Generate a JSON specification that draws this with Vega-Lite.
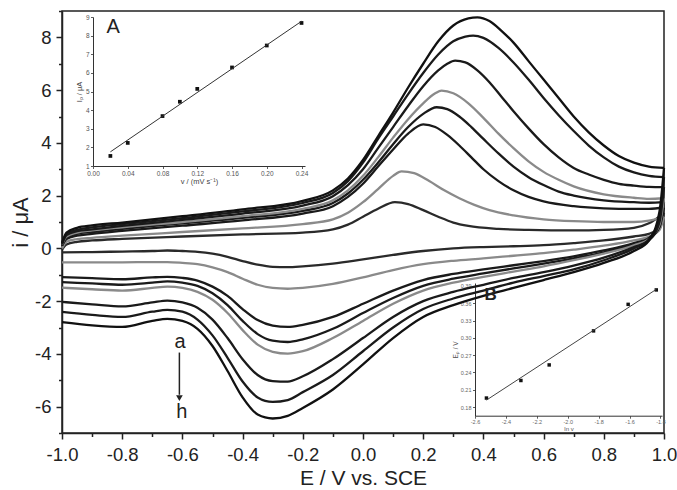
{
  "$schema": "https://vega.github.io/schema/vega-lite/v6.json",
  "width": 602,
  "height": 422,
  "autosize": {"type": "none"},
  "padding": {"left": 62, "top": 11, "right": 13, "bottom": 57},
  "background": "white",
  "config": {
    "view": {"stroke": "#222", "strokeWidth": 1.5},
    "font": "Liberation Sans",
    "axis": {"grid": false}
  },
  "datasets": {
    "cv": [
      {"c": "a", "b": "u", "E": [-1,-0.985,-0.95,-0.9,-0.8,-0.6,-0.4,-0.2,-0.1,-0.05,0,0.05,0.106,0.15,0.2,0.25,0.3,0.35,0.45,0.55,0.7,0.8,0.9,0.95,1], "i": [-0.05,0.15,0.25,0.3,0.36,0.45,0.53,0.6,0.72,0.9,1.2,1.5,1.75,1.68,1.45,1.2,0.98,0.85,0.74,0.7,0.68,0.7,0.78,0.95,1.35]},
      {"c": "a", "b": "d", "E": [1,0.985,0.95,0.9,0.8,0.7,0.6,0.5,0.4,0.3,0.2,0.1,0,-0.1,-0.2,-0.25,-0.3,-0.35,-0.4,-0.45,-0.5,-0.55,-0.6,-0.65,-0.7,-0.8,-0.9,-1], "i": [1.35,0.75,0.55,0.45,0.3,0.2,0.12,0.08,0.05,0.0,-0.1,-0.25,-0.42,-0.58,-0.68,-0.71,-0.7,-0.62,-0.48,-0.32,-0.2,-0.13,-0.1,-0.08,-0.1,-0.12,-0.14,-0.15]},
      {"c": "b", "b": "u", "E": [-1,-0.985,-0.95,-0.9,-0.8,-0.6,-0.4,-0.2,-0.1,-0.05,0,0.05,0.1,0.128,0.17,0.22,0.27,0.32,0.37,0.42,0.5,0.6,0.7,0.8,0.9,0.95,1], "i": [0.0,0.25,0.35,0.4,0.48,0.62,0.76,0.92,1.1,1.35,1.75,2.25,2.75,2.92,2.85,2.55,2.2,1.9,1.65,1.45,1.25,1.1,1.03,1.0,1.0,1.05,1.2]},
      {"c": "b", "b": "d", "E": [1,0.985,0.95,0.9,0.8,0.7,0.6,0.5,0.4,0.3,0.2,0.1,0,-0.1,-0.2,-0.25,-0.3,-0.35,-0.4,-0.45,-0.5,-0.55,-0.6,-0.65,-0.7,-0.8,-0.9,-1], "i": [1.2,0.7,0.45,0.3,0.1,-0.05,-0.18,-0.28,-0.38,-0.47,-0.6,-0.82,-1.1,-1.35,-1.5,-1.53,-1.5,-1.38,-1.15,-0.9,-0.72,-0.6,-0.55,-0.52,-0.52,-0.53,-0.53,-0.53]},
      {"c": "c", "b": "u", "E": [-1,-0.985,-0.95,-0.9,-0.8,-0.6,-0.4,-0.2,-0.1,-0.05,0,0.05,0.1,0.15,0.2,0.24,0.28,0.32,0.36,0.4,0.45,0.5,0.55,0.6,0.7,0.8,0.9,0.95,1], "i": [0.1,0.35,0.48,0.55,0.66,0.86,1.06,1.32,1.6,1.95,2.45,3.1,3.75,4.35,4.7,4.6,4.3,3.9,3.45,3.0,2.55,2.2,1.95,1.78,1.6,1.52,1.5,1.5,1.55]},
      {"c": "c", "b": "d", "E": [1,0.985,0.95,0.9,0.8,0.7,0.6,0.5,0.4,0.3,0.2,0.1,0,-0.1,-0.2,-0.25,-0.3,-0.35,-0.4,-0.45,-0.5,-0.55,-0.6,-0.65,-0.7,-0.8,-0.9,-1], "i": [1.55,0.8,0.4,0.2,-0.08,-0.3,-0.48,-0.64,-0.8,-0.97,-1.2,-1.6,-2.1,-2.6,-2.9,-2.98,-2.93,-2.72,-2.3,-1.8,-1.45,-1.22,-1.12,-1.08,-1.1,-1.17,-1.13,-1.09]},
      {"c": "d", "b": "u", "E": [-1,-0.985,-0.95,-0.9,-0.8,-0.6,-0.4,-0.2,-0.1,-0.05,0,0.05,0.1,0.15,0.2,0.245,0.28,0.32,0.36,0.4,0.45,0.5,0.55,0.6,0.65,0.7,0.8,0.9,0.95,1], "i": [0.1,0.4,0.55,0.62,0.74,0.95,1.16,1.42,1.72,2.08,2.6,3.25,3.95,4.6,5.1,5.35,5.28,5.0,4.6,4.15,3.6,3.1,2.7,2.4,2.15,2.0,1.82,1.75,1.73,1.75]},
      {"c": "d", "b": "d", "E": [1,0.985,0.95,0.9,0.8,0.7,0.6,0.5,0.4,0.3,0.2,0.1,0,-0.1,-0.2,-0.25,-0.3,-0.35,-0.4,-0.45,-0.5,-0.55,-0.6,-0.65,-0.7,-0.8,-0.9,-1], "i": [1.75,0.85,0.35,0.15,-0.15,-0.38,-0.58,-0.76,-0.95,-1.15,-1.42,-1.88,-2.45,-3.05,-3.45,-3.55,-3.5,-3.25,-2.75,-2.15,-1.7,-1.42,-1.3,-1.25,-1.3,-1.38,-1.33,-1.28]},
      {"c": "e", "b": "u", "E": [-1,-0.985,-0.95,-0.9,-0.8,-0.6,-0.4,-0.2,-0.1,-0.05,0,0.05,0.1,0.15,0.2,0.24,0.261,0.3,0.35,0.4,0.45,0.5,0.55,0.6,0.65,0.7,0.8,0.9,0.95,1], "i": [0.15,0.45,0.6,0.68,0.8,1.0,1.22,1.5,1.82,2.2,2.75,3.45,4.2,4.9,5.5,5.88,5.98,5.88,5.5,4.95,4.35,3.8,3.3,2.9,2.6,2.35,2.05,1.92,1.88,1.9]},
      {"c": "e", "b": "d", "E": [1,0.985,0.95,0.9,0.8,0.7,0.6,0.5,0.4,0.3,0.2,0.1,0,-0.1,-0.2,-0.25,-0.3,-0.35,-0.4,-0.45,-0.5,-0.55,-0.6,-0.65,-0.7,-0.8,-0.9,-1], "i": [1.9,0.9,0.35,0.12,-0.2,-0.45,-0.68,-0.88,-1.08,-1.3,-1.6,-2.1,-2.75,-3.4,-3.9,-3.99,-3.92,-3.65,-3.1,-2.45,-1.95,-1.65,-1.5,-1.45,-1.5,-1.6,-1.55,-1.49]},
      {"c": "f", "b": "u", "E": [-1,-0.985,-0.95,-0.9,-0.8,-0.6,-0.4,-0.2,-0.1,-0.05,0,0.05,0.1,0.15,0.2,0.25,0.28,0.306,0.34,0.38,0.42,0.46,0.5,0.55,0.6,0.65,0.7,0.75,0.8,0.85,0.9,0.95,1], "i": [0.15,0.5,0.65,0.72,0.85,1.08,1.32,1.62,1.98,2.4,3.0,3.8,4.6,5.4,6.15,6.75,7.0,7.12,7.05,6.75,6.3,5.75,5.2,4.55,3.95,3.45,3.05,2.8,2.6,2.45,2.38,2.33,2.32]},
      {"c": "f", "b": "d", "E": [1,0.985,0.95,0.9,0.8,0.7,0.6,0.5,0.4,0.3,0.2,0.1,0,-0.1,-0.2,-0.25,-0.3,-0.35,-0.4,-0.45,-0.5,-0.55,-0.6,-0.65,-0.7,-0.8,-0.9,-1], "i": [2.32,1.0,0.3,0.05,-0.35,-0.65,-0.9,-1.12,-1.38,-1.65,-2.0,-2.6,-3.4,-4.2,-4.85,-5.05,-5.03,-4.8,-4.2,-3.4,-2.7,-2.25,-2.05,-1.98,-2.05,-2.2,-2.12,-2.03]},
      {"c": "g", "b": "u", "E": [-1,-0.985,-0.95,-0.9,-0.8,-0.6,-0.4,-0.2,-0.1,-0.05,0,0.05,0.1,0.15,0.2,0.25,0.3,0.34,0.366,0.4,0.45,0.5,0.55,0.6,0.65,0.7,0.75,0.8,0.85,0.9,0.95,1], "i": [0.2,0.55,0.7,0.8,0.92,1.15,1.4,1.72,2.1,2.55,3.25,4.15,5.0,5.85,6.65,7.35,7.85,8.03,8.07,7.98,7.6,7.05,6.4,5.7,5.05,4.45,3.9,3.45,3.1,2.88,2.75,2.7]},
      {"c": "g", "b": "d", "E": [1,0.985,0.95,0.9,0.8,0.7,0.6,0.5,0.4,0.3,0.2,0.1,0,-0.1,-0.2,-0.25,-0.3,-0.35,-0.4,-0.45,-0.5,-0.55,-0.6,-0.65,-0.7,-0.8,-0.9,-1], "i": [2.7,1.2,0.35,0.0,-0.45,-0.8,-1.05,-1.3,-1.6,-1.9,-2.3,-3.0,-3.9,-4.8,-5.45,-5.75,-5.82,-5.65,-5.05,-4.15,-3.3,-2.7,-2.4,-2.33,-2.4,-2.6,-2.52,-2.41]},
      {"c": "h", "b": "u", "E": [-1,-0.985,-0.95,-0.9,-0.8,-0.6,-0.4,-0.2,-0.1,-0.05,0,0.05,0.1,0.15,0.2,0.25,0.3,0.35,0.38,0.42,0.46,0.5,0.55,0.6,0.65,0.7,0.75,0.8,0.85,0.9,0.95,1], "i": [0.2,0.6,0.78,0.87,0.98,1.22,1.48,1.8,2.2,2.65,3.35,4.25,5.15,6.1,7.0,7.85,8.45,8.72,8.76,8.62,8.25,7.8,7.1,6.4,5.7,5.0,4.4,3.9,3.5,3.25,3.1,3.05]},
      {"c": "h", "b": "d", "E": [1,0.985,0.95,0.9,0.8,0.7,0.6,0.5,0.4,0.3,0.2,0.1,0,-0.1,-0.2,-0.25,-0.3,-0.35,-0.4,-0.45,-0.5,-0.55,-0.6,-0.65,-0.7,-0.8,-0.9,-1], "i": [3.05,1.4,0.3,-0.1,-0.55,-0.9,-1.2,-1.5,-1.8,-2.15,-2.6,-3.4,-4.4,-5.35,-6.05,-6.35,-6.45,-6.3,-5.65,-4.65,-3.7,-3.05,-2.75,-2.67,-2.75,-2.98,-2.92,-2.8]}
    ],
    "ia": [
      {"v": 0.02, "Ip": 1.54}, {"v": 0.04, "Ip": 2.24}, {"v": 0.08, "Ip": 3.68}, {"v": 0.10, "Ip": 4.45},
      {"v": 0.12, "Ip": 5.14}, {"v": 0.16, "Ip": 6.29}, {"v": 0.20, "Ip": 7.47}, {"v": 0.24, "Ip": 8.68}
    ],
    "ial": [{"v": 0.02, "Ip": 1.76}, {"v": 0.24, "Ip": 8.77}],
    "ib": [
      {"lnv": -2.526, "Ep": 0.1956}, {"lnv": -2.303, "Ep": 0.226}, {"lnv": -2.120, "Ep": 0.253},
      {"lnv": -1.833, "Ep": 0.312}, {"lnv": -1.609, "Ep": 0.358}, {"lnv": -1.427, "Ep": 0.383}
    ],
    "ibl": [{"lnv": -2.526, "Ep": 0.192}, {"lnv": -1.427, "Ep": 0.384}]
  },
  "layer": [
    {
      "layer": [
        {
          "data": {"name": "cv"},
          "transform": [{"flatten": ["E", "i"]}],
          "mark": {"type": "line", "interpolate": "monotone", "strokeWidth": 2.3},
          "encoding": {
            "x": {
              "field": "E", "type": "quantitative",
              "scale": {"domain": [-1, 1], "nice": false, "zero": false},
              "axis": {
                "orient": "bottom",
                "values": [-1,-0.8,-0.6,-0.4,-0.2,0,0.2,0.4,0.6,0.8,1],
                "labelExpr": "replace(format(datum.value, '.1f'), '−', '-')",
                "tickSize": 6,
                "labelFontSize": 18.5, "labelColor": "#222", "labelPadding": 6, "labelOverlap": false, "labelFlush": false,
                "domainColor": "#222", "domainWidth": 1.5, "tickColor": "#222", "tickWidth": 1.5,
                "title": "E / V vs. SCE", "titleFontSize": 21, "titleFontWeight": "normal", "titleColor": "#222", "titlePadding": 4
              }
            },
            "y": {
              "field": "i", "type": "quantitative",
              "scale": {"domain": [-7, 9], "nice": false, "zero": false},
              "axis": {
                "orient": "left",
                "values": [-6,-4,-2,0,2,4,6,8],
                "labelExpr": "replace(format(datum.value, '.0f'), '−', '-')",
                "tickSize": 6,
                "labelFontSize": 18.5, "labelColor": "#222", "labelPadding": 5, "labelOverlap": false,
                "domainColor": "#222", "domainWidth": 1.5, "tickColor": "#222", "tickWidth": 1.5,
                "title": "i / μA", "titleFontSize": 22, "titleFontWeight": "normal", "titleColor": "#222", "titlePadding": 2
              }
            },
            "color": {
              "field": "c", "type": "nominal",
              "scale": {"domain": ["a","b","c","d","e","f","g","h"], "range": ["#2a2a2a","#8a8a8a","#1a1a1a","#1a1a1a","#8a8a8a","#1a1a1a","#1a1a1a","#111111"]},
              "legend": null
            },
            "detail": {"field": "b", "type": "nominal"}
          }
        },
        {
          "data": {"values": [{}]},
          "mark": {"type": "rule", "color": "#222", "strokeWidth": 1.5},
          "encoding": {"x": {"datum": -0.61}, "y": {"datum": -3.95}, "y2": {"datum": -5.55}}
        },
        {
          "data": {"values": [{}]},
          "mark": {"type": "point", "shape": "triangle-down", "filled": true, "color": "#222", "opacity": 1, "size": 45},
          "encoding": {"x": {"datum": -0.61}, "y": {"datum": -5.68}}
        },
        {
          "data": {"values": [{}]},
          "mark": {"type": "text", "text": "a", "fontSize": 20, "color": "#222", "baseline": "middle", "align": "center"},
          "encoding": {"x": {"datum": -0.608}, "y": {"datum": -3.55}}
        },
        {
          "data": {"values": [{}]},
          "mark": {"type": "text", "text": "h", "fontSize": 20, "color": "#222", "baseline": "middle", "align": "center"},
          "encoding": {"x": {"datum": -0.602}, "y": {"datum": -6.2}}
        },
        {
          "data": {"values": [{}]},
          "mark": {"type": "text", "text": "A", "fontSize": 20, "color": "#222", "baseline": "middle", "align": "center"},
          "encoding": {"x": {"datum": -0.83}, "y": {"datum": 8.4}}
        },
        {
          "data": {"values": [{}]},
          "mark": {"type": "text", "text": "B", "fontSize": 17, "fontWeight": "bold", "color": "#222", "baseline": "middle", "align": "center"},
          "encoding": {"x": {"datum": 0.424}, "y": {"datum": -1.76}}
        }
      ]
    },
    {
      "data": {"values": [{}]},
      "mark": {"type": "point", "opacity": 0},
      "encoding": {
        "x": {
          "datum": 0, "type": "quantitative",
          "scale": {"domain": [-1, 1], "nice": false, "zero": false},
          "axis": {"orient": "bottom", "values": [-0.9,-0.7,-0.5,-0.3,-0.1,0.1,0.3,0.5,0.7,0.9], "labels": false, "domain": false, "tickSize": 3.5, "tickWidth": 1.5, "tickColor": "#222", "title": null}
        },
        "y": {
          "datum": 0, "type": "quantitative",
          "scale": {"domain": [-7, 9], "nice": false, "zero": false},
          "axis": {"orient": "left", "values": [-7,-5,-3,-1,1,3,5,7,9], "labels": false, "domain": false, "tickSize": 3.5, "tickWidth": 1.5, "tickColor": "#222", "title": null}
        }
      }
    },
    {
      "layer": [
        {
          "data": {"name": "ia"},
          "mark": {"type": "point", "shape": "square", "filled": true, "size": 14, "color": "#111", "opacity": 1},
          "encoding": {
            "x": {
              "field": "v", "type": "quantitative",
              "scale": {"domain": [0, 0.244], "range": [31, 243], "nice": false, "zero": false},
              "axis": {
                "orient": "bottom", "offset": -267,
                "values": [0,0.04,0.08,0.12,0.16,0.2,0.24],
                "format": ".2f",
                "tickSize": 2.5,
                "labelFontSize": 6.5, "labelColor": "#555", "labelPadding": 1.5, "labelOverlap": false, "labelFlush": false,
                "domainColor": "#333", "domainWidth": 1, "tickColor": "#333", "tickWidth": 0.8,
                "title": "v / (mV s⁻¹)", "titleFontSize": 7.5, "titleFontWeight": "normal", "titleColor": "#444", "titlePadding": 1
              }
            },
            "y": {
              "field": "Ip", "type": "quantitative",
              "scale": {"domain": [1, 9], "range": [155, 6], "nice": false, "zero": false},
              "axis": {
                "orient": "left", "offset": -31,
                "values": [1,2,3,4,5,6,7,8,9],
                "format": "d",
                "tickSize": 2.5,
                "labelFontSize": 6.5, "labelColor": "#555", "labelPadding": 1.5, "labelOverlap": false,
                "domainColor": "#333", "domainWidth": 1, "tickColor": "#333", "tickWidth": 0.8,
                "title": "Iₚ / μA", "titleFontSize": 7.5, "titleFontWeight": "normal", "titleColor": "#444", "titlePadding": 2
              }
            }
          }
        },
        {
          "data": {"name": "ial"},
          "mark": {"type": "line", "color": "#333", "strokeWidth": 1},
          "encoding": {
            "x": {"field": "v", "type": "quantitative"},
            "y": {"field": "Ip", "type": "quantitative"}
          }
        }
      ]
    },
    {
      "layer": [
        {
          "data": {"name": "ib"},
          "mark": {"type": "point", "shape": "square", "filled": true, "size": 12, "color": "#111", "opacity": 1},
          "encoding": {
            "x": {
              "field": "lnv", "type": "quantitative",
              "scale": {"domain": [-2.6, -1.39], "range": [413, 600], "nice": false, "zero": false},
              "axis": {
                "orient": "bottom", "offset": -17.3,
                "values": [-2.6,-2.4,-2.2,-2.0,-1.8,-1.6,-1.4],
                "labelExpr": "replace(format(datum.value, '.1f'), '−', '-')",
                "tickSize": 2.5,
                "labelFontSize": 5.5, "labelColor": "#666", "labelPadding": 1.5, "labelOverlap": false, "labelFlush": false,
                "domainColor": "#333", "domainWidth": 1, "tickColor": "#333", "tickWidth": 0.8,
                "title": "ln v", "titleFontSize": 6, "titleFontWeight": "normal", "titleColor": "#555", "titlePadding": 0
              }
            },
            "y": {
              "field": "Ep", "type": "quantitative",
              "scale": {"domain": [0.165, 0.395], "range": [404.7, 272], "nice": false, "zero": false},
              "axis": {
                "orient": "left", "offset": -413,
                "values": [0.18,0.21,0.24,0.27,0.30,0.33,0.36,0.39],
                "format": ".2f",
                "tickSize": 2.5,
                "labelFontSize": 5.5, "labelColor": "#666", "labelPadding": 1.5, "labelOverlap": false,
                "domainColor": "#333", "domainWidth": 1, "tickColor": "#333", "tickWidth": 0.8,
                "title": "Eₚ / V", "titleFontSize": 6.5, "titleFontWeight": "normal", "titleColor": "#555", "titlePadding": 2
              }
            }
          }
        },
        {
          "data": {"name": "ibl"},
          "mark": {"type": "line", "color": "#444", "strokeWidth": 1},
          "encoding": {
            "x": {"field": "lnv", "type": "quantitative"},
            "y": {"field": "Ep", "type": "quantitative"}
          }
        }
      ]
    }
  ],
  "resolve": {
    "scale": {"x": "independent", "y": "independent"},
    "axis": {"x": "independent", "y": "independent"}
  }
}
